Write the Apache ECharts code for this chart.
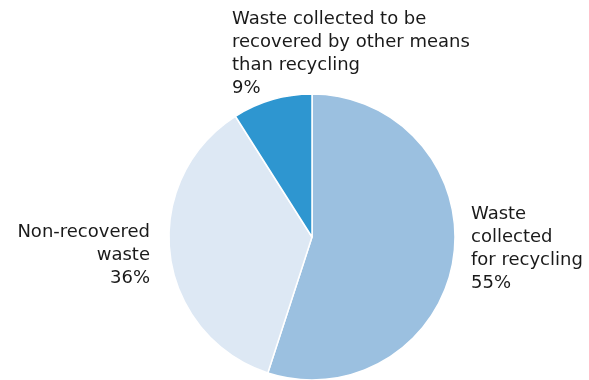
<!DOCTYPE html>
<html>
<head>
<meta charset="utf-8">
<script src="https://cdn.jsdelivr.net/npm/echarts@6/dist/echarts.min.js"></script>
<style>
  html, body { margin: 0; padding: 0; background: #fff; }
  #chart { width: 589px; height: 380px; }
</style>
</head>
<body>
<div id="chart"></div>
<script>
// Waste breakdown by destination
const categories = [
  'Waste\ncollected\nfor recycling',
  'Non-recovered\nwaste',
  'Waste collected to be\nrecovered by other means\nthan recycling'
];
const shares = [55, 36, 9];
const colors = ['#9bc0e0', '#dde8f4', '#2e96d0'];

// Label anchor and alignment for each slice
const labelPlacement = [
  { x: 471, y: 249, align: 'left' },
  { x: 150, y: 255, align: 'right' },
  { x: 232, y: 54, align: 'left' }
];

const chart = echarts.init(document.getElementById('chart'), null, { renderer: 'canvas' });

chart.setOption({
  animation: false,
  series: [{
    type: 'pie',
    center: [312, 237],
    radius: [0, 143],
    startAngle: 90,
    clockwise: true,
    avoidLabelOverlap: false,
    itemStyle: { borderColor: '#ffffff', borderWidth: 1.5 },
    label: {
      show: true,
      position: 'outside',
      formatter: p => p.name + '\n' + p.value + '%',
      fontFamily: 'DejaVu Sans',
      fontSize: 18,
      lineHeight: 23,
      color: '#1a1a1a'
    },
    labelLine: { show: false },
    labelLayout: params => {
      const pl = labelPlacement[params.dataIndex];
      return { x: pl.x, y: pl.y, align: pl.align, verticalAlign: 'middle' };
    },
    emphasis: { disabled: true },
    data: categories.map((name, i) => ({
      name: name,
      value: shares[i],
      itemStyle: { color: colors[i] },
      label: { align: labelPlacement[i].align }
    }))
  }]
});
</script>
</body>
</html>
